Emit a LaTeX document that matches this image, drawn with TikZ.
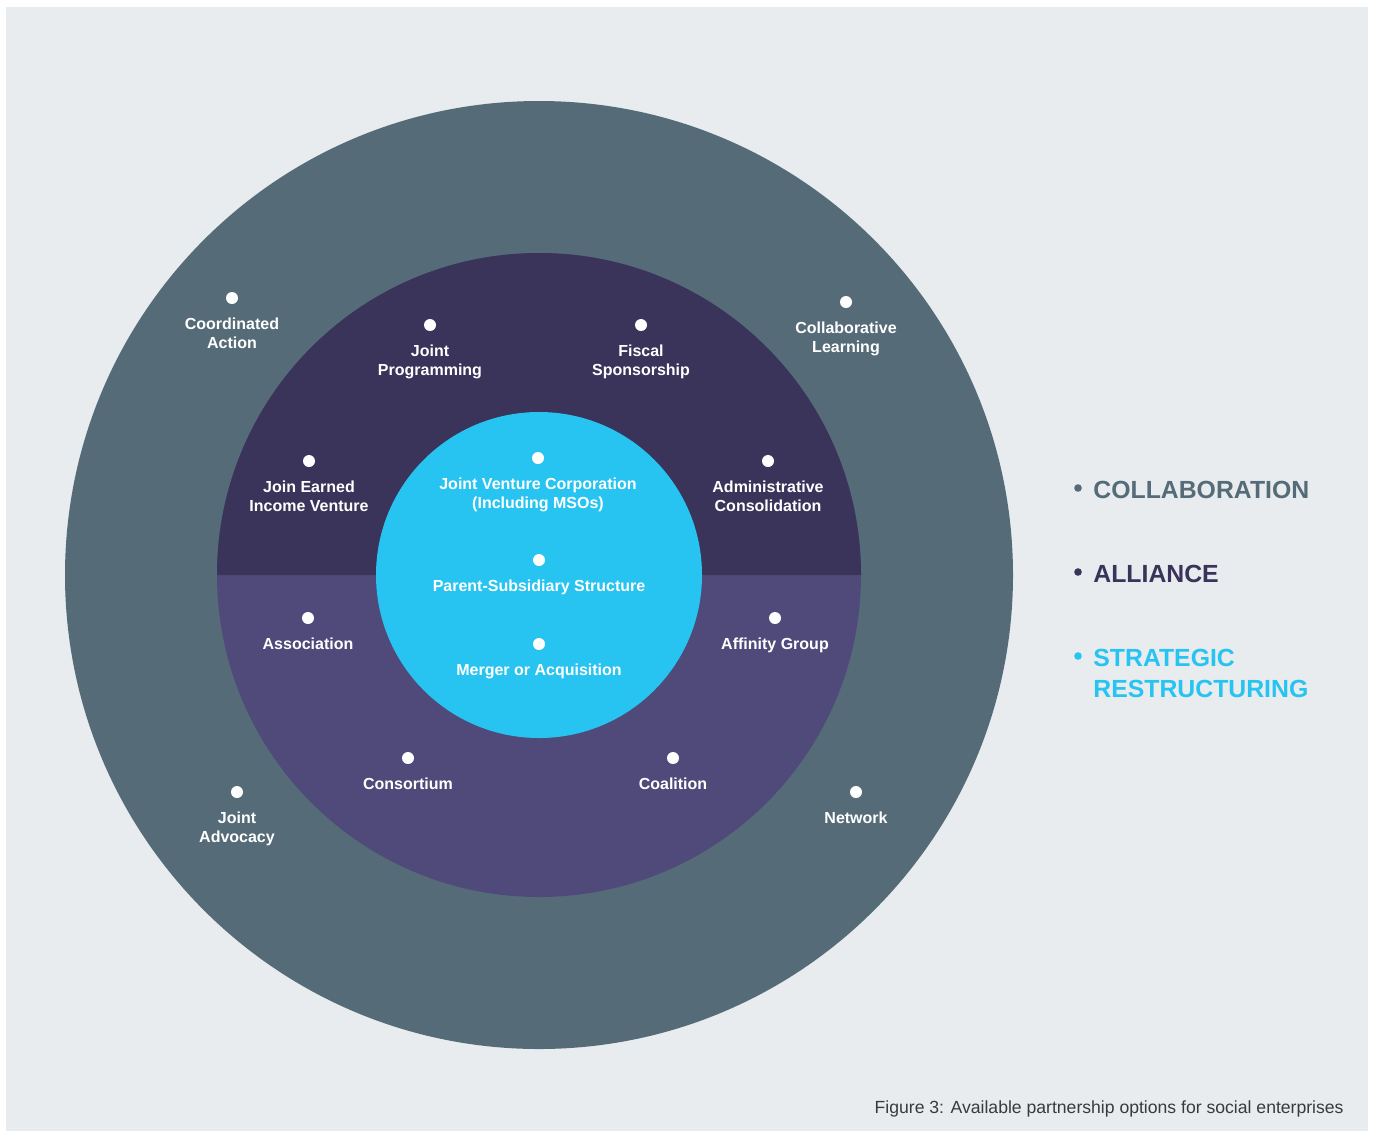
\documentclass[tikz,border=0pt]{standalone}
\usepackage{fontspec}
\setmainfont{Liberation Sans}
\usetikzlibrary{positioning}

\definecolor{bggray}{HTML}{E8ECEF}
\definecolor{collab}{HTML}{556C78}
\definecolor{allydark}{HTML}{3A335A}
\definecolor{allylight}{HTML}{4F4A7A}
\definecolor{strat}{HTML}{27C4F1}
\definecolor{capgray}{HTML}{3A3A3A}

\tikzset{
  pdot/.style={circle,fill=white,inner sep=0pt,minimum size=6pt},
  plabel/.style={text=white,font=\fontsize{8}{9.5}\selectfont\bfseries,align=center,inner sep=0pt},
  legtext/.style={anchor=base west,inner sep=0pt,font=\fontsize{12.4}{15.5}\selectfont\bfseries,align=left},
  legdot/.style={circle,inner sep=0pt,minimum size=3.8pt}
}

\begin{document}
\begin{tikzpicture}[x=0.5pt,y=-0.5pt]
	\useasboundingbox (0,0) rectangle (1375,1131);
	\fill[white] (0,0) rectangle (1375,1131);
	\fill[bggray] (6,7) rectangle (1368,1131);

	% rings
	\fill[collab] (539,575) circle (474);
	\fill[allylight] (539,575) circle (322);
	\fill[allydark] (217,575) arc (180:360:322) -- cycle;
	\fill[strat] (539,575) circle (163);

	% outer ring: collaboration
	\node[pdot] (coord) at (232,298) {};
	\node[plabel,below=6.75pt of coord] {Coordinated\\Action};
	\node[pdot] (clearn) at (846,302) {};
	\node[plabel,below=6.75pt of clearn] {Collaborative\\Learning};
	\node[pdot] (jadv) at (237,792) {};
	\node[plabel,below=6.75pt of jadv] {Joint\\Advocacy};
	\node[pdot] (netw) at (856,792) {};
	\node[plabel,below=6.75pt of netw] {Network};

	% middle ring: alliance
	\node[pdot] (jprog) at (430,325) {};
	\node[plabel,below=6.75pt of jprog] {Joint\\Programming};
	\node[pdot] (fiscal) at (641,325) {};
	\node[plabel,below=6.75pt of fiscal] {Fiscal\\Sponsorship};
	\node[pdot] (jeiv) at (309,461) {};
	\node[plabel,below=6.75pt of jeiv] {Join Earned\\Income Venture};
	\node[pdot] (admin) at (768,461) {};
	\node[plabel,below=6.75pt of admin] {Administrative\\Consolidation};
	\node[pdot] (assoc) at (308,618) {};
	\node[plabel,below=6.75pt of assoc] {Association};
	\node[pdot] (affin) at (775,618) {};
	\node[plabel,below=6.75pt of affin] {Affinity Group};
	\node[pdot] (consort) at (408,758) {};
	\node[plabel,below=6.75pt of consort] {Consortium};
	\node[pdot] (coal) at (673,758) {};
	\node[plabel,below=6.75pt of coal] {Coalition};

	% centre: strategic restructuring
	\node[pdot] (jvc) at (538,458) {};
	\node[plabel,below=6.75pt of jvc] {Joint Venture Corporation\\(Including MSOs)};
	\node[pdot] (parent) at (539,560) {};
	\node[plabel,below=6.75pt of parent] {Parent-Subsidiary Structure};
	\node[pdot] (merger) at (539,644) {};
	\node[plabel,below=6.75pt of merger] {Merger or Acquisition};

	% legend
	\node[legdot,fill=collab] (lcollab) at (1078,488) {};
	\node[legtext,text=collab] at (1093,498) {COLLABORATION};
	\node[legdot,fill=allydark] (lally) at (1078,572) {};
	\node[legtext,text=allydark] at (1093,582) {ALLIANCE};
	\node[legdot,fill=strat] (lstrat) at (1078,656) {};
	\node[legtext,text=strat] at (1093,697) {STRATEGIC\\RESTRUCTURING};

	\node[anchor=base east,inner sep=0pt,text=capgray,font=\fontsize{8.8}{11}\selectfont] (caption) at (1344,1113) {Figure 3: Available partnership options for social enterprises};
\end{tikzpicture}
\end{document}
